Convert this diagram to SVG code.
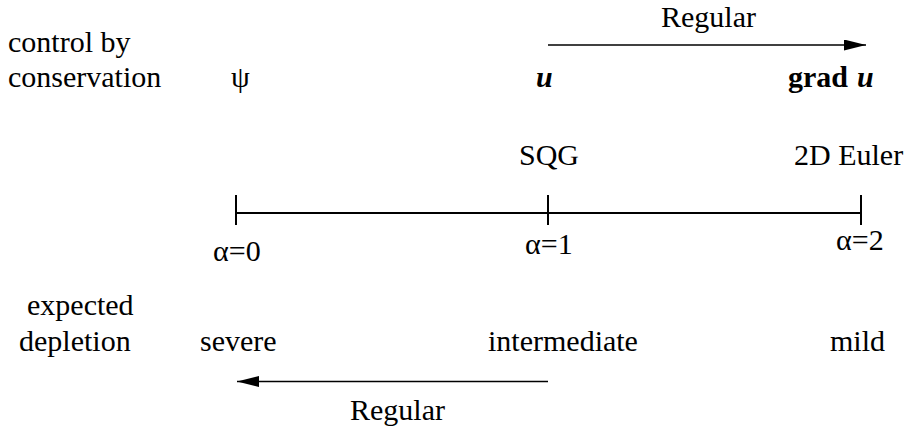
<svg xmlns="http://www.w3.org/2000/svg" width="907" height="429" viewBox="0 0 907 429">
<style>
text{font-family:"Liberation Serif","Times New Roman",serif;font-size:30px;fill:#000}
.bi{font-weight:bold;font-style:italic}
.b{font-weight:bold}
.axis{stroke:#000;stroke-width:2;fill:none}
.arr{stroke:#000;stroke-width:1.4;fill:none}
</style>
<defs>
<marker id="ah" viewBox="0 0 22 11" refX="22" refY="5.5" markerWidth="22" markerHeight="11" markerUnits="userSpaceOnUse" orient="auto">
<path d="M0,0 L22,5.5 L0,11 Z" fill="#000"/>
</marker>
</defs>
<rect width="907" height="429" fill="#fff"/>
<g id="labels-left">
<text x="8" y="52">control by</text>
<text x="8" y="87">conservation</text>
<text x="27" y="315">expected</text>
<text x="19" y="351">depletion</text>
</g>
<g id="node-psi"><text x="231" y="87">ψ</text></g>
<g id="node-u"><text class="bi" x="536" y="87">u</text></g>
<g id="node-gradu"><text class="b" x="788" y="87">grad</text><text class="bi" x="857" y="87">u</text></g>
<g id="node-regular-top"><text x="661" y="27">Regular</text></g>
<g id="node-sqg"><text x="519" y="165">SQG</text></g>
<g id="node-euler"><text x="794" y="165">2D Euler</text></g>
<g id="node-a0"><text x="213" y="261">α=0</text></g>
<g id="node-a1"><text x="525" y="254">α=1</text></g>
<g id="node-a2"><text x="836" y="250">α=2</text></g>
<g id="node-severe"><text x="200" y="351">severe</text></g>
<g id="node-intermediate"><text x="488" y="351">intermediate</text></g>
<g id="node-mild"><text x="830" y="351">mild</text></g>
<g id="node-regular-bottom"><text x="350" y="420">Regular</text></g>
<g id="connectors">
<line class="axis" x1="236" y1="213" x2="861" y2="213"/>
<line class="axis" x1="236" y1="195" x2="236" y2="225"/>
<line class="axis" x1="548" y1="195" x2="548" y2="225"/>
<line class="axis" x1="861" y1="195" x2="861" y2="225"/>
<line class="arr" x1="548" y1="45" x2="866" y2="45" marker-end="url(#ah)"/>
<line class="arr" x1="548" y1="381.5" x2="237" y2="381.5" marker-end="url(#ah)"/>
</g>
</svg>
